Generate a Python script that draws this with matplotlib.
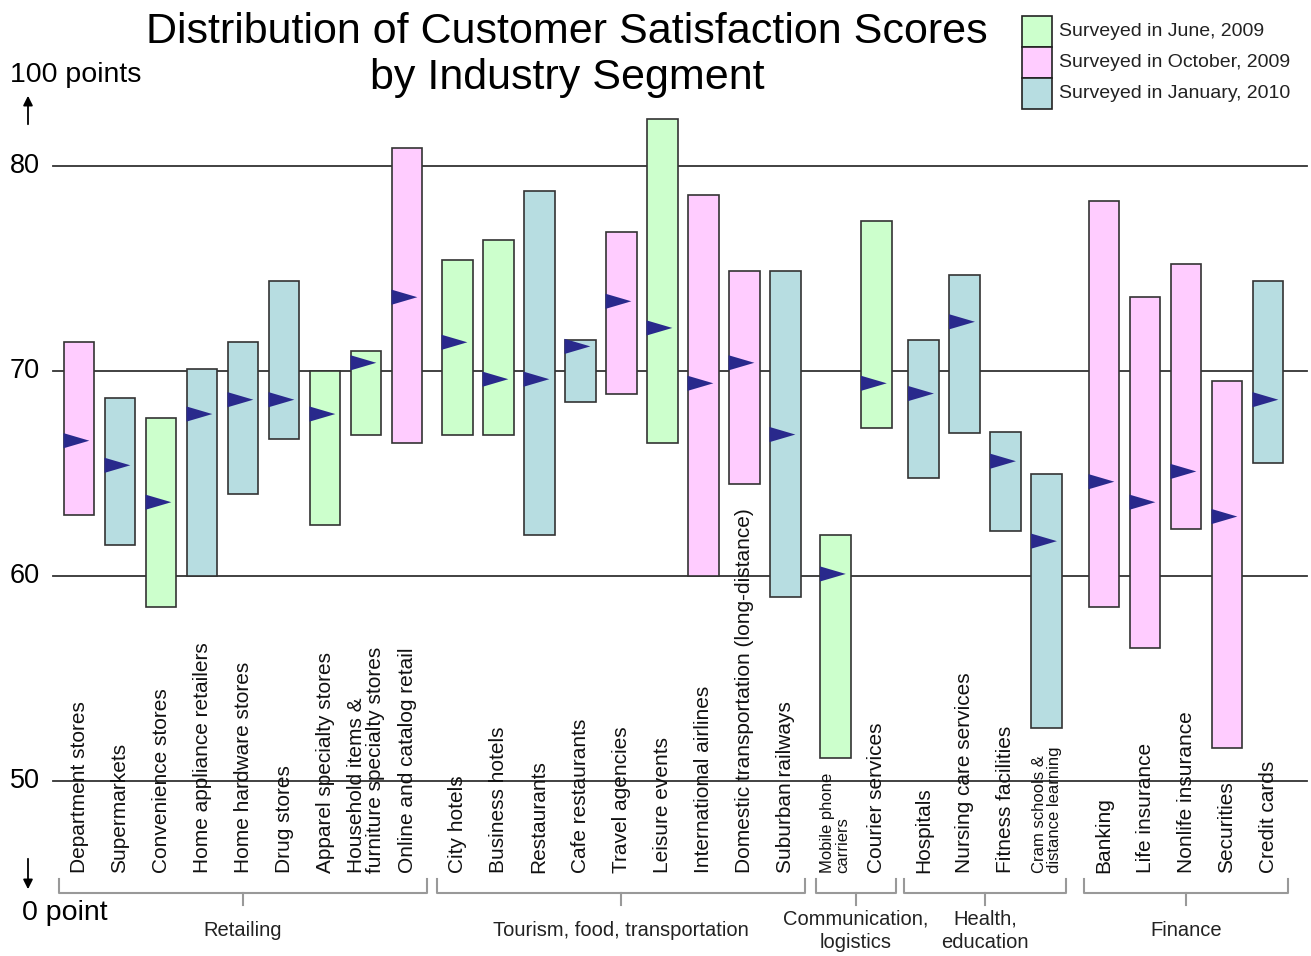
#!/usr/bin/env python3
# range bars of satisfaction scores with mean markers, grouped by segment
import matplotlib
matplotlib.use("Agg")
import matplotlib.pyplot as plt
from matplotlib.patches import Rectangle, Polygon

plt.rcParams['font.family'] = ['Liberation Sans', 'DejaVu Sans']

categories = ["Department stores", "Supermarkets", "Convenience stores",
              "Home appliance retailers", "Home hardware stores", "Drug stores",
              "Apparel specialty stores", "Household items &\nfurniture specialty stores",
              "Online and catalog retail",
              "City hotels", "Business hotels", "Restaurants", "Cafe restaurants",
              "Travel agencies", "Leisure events", "International airlines",
              "Domestic transportation (long-distance)", "Suburban railways",
              "Mobile phone\ncarriers", "Courier services",
              "Hospitals", "Nursing care services", "Fitness facilities",
              "Cram schools &\ndistance learning",
              "Banking", "Life insurance", "Nonlife insurance", "Securities", "Credit cards"]
groups = ["Retailing", "Tourism, food, transportation", "Communication,\nlogistics",
          "Health,\neducation", "Finance"]
group_of = [0]*9 + [1]*9 + [2]*2 + [3]*4 + [4]*5
# survey: 0 = June 2009, 1 = October 2009, 2 = January 2010
survey = [1, 2, 0, 2, 2, 2, 0, 0, 1,
          0, 0, 2, 2, 1, 0, 1, 1, 2,
          0, 0,
          2, 2, 2, 2,
          1, 1, 1, 1, 2]
low = [63.0, 61.5, 58.5, 60.0, 64.0, 66.7, 62.5, 66.9, 66.5,
       66.9, 66.9, 62.0, 68.5, 68.9, 66.5, 60.0, 64.5, 59.0,
       51.1, 67.2,
       64.8, 67.0, 62.2, 52.6,
       58.5, 56.5, 62.3, 51.6, 65.5]
high = [71.4, 68.7, 67.7, 70.1, 71.4, 74.4, 70.0, 71.0, 80.9,
        75.4, 76.4, 78.8, 71.5, 76.8, 82.3, 78.6, 74.9, 74.9,
        62.0, 77.3,
        71.5, 74.7, 67.0, 65.0,
        78.3, 73.6, 75.2, 69.5, 74.4]
mean = [66.6, 65.4, 63.6, 67.9, 68.6, 68.6, 67.9, 70.4, 73.6,
        71.4, 69.6, 69.6, 71.2, 73.4, 72.1, 69.4, 70.4, 66.9,
        60.1, 69.4,
        68.9, 72.4, 65.6, 61.7,
        64.6, 63.6, 65.1, 62.9, 68.6]
survey_labels = ["Surveyed in June, 2009", "Surveyed in October, 2009",
                 "Surveyed in January, 2010"]
survey_colors = ["#ccffcc", "#ffccff", "#b7dde1"]
gridvals = [80, 70, 60, 50]

W, H = 1311, 956
fig = plt.figure(figsize=(W/100, H/100), dpi=100)
ax = fig.add_axes([0, 0, 1, 1])
ax.set_xlim(-79/41, (W-79)/41)
ax.set_ylim(80 - (H-166)/20.5, 80 + 166/20.5)
ax.axis('off')

def fx(px):
    return px / W

def fy(py):
    return 1 - py / H

group_shift = [0, 0.22, 0.45, 0.6, 1.0]  # extra space before each segment
xs = [i + group_shift[g] for i, g in enumerate(group_of)]
bw = 0.756

for v in gridvals:
    ax.axhline(v, xmin=fx(53), xmax=fx(1307), color='#333333', lw=1.3, zorder=1)
    ax.text(fx(10), v, str(v), transform=ax.get_yaxis_transform(), ha='left',
            va='center', fontsize=19.5)

for x, lo, hi, m, s in zip(xs, low, high, mean, survey):
    ax.add_patch(Rectangle((x - bw/2, lo), bw, hi - lo, facecolor=survey_colors[s],
                           edgecolor='#333333', lw=1.2, zorder=2))
    left = x - bw/2
    ax.add_patch(Polygon([(left, m + 0.37), (left, m - 0.37), (left + 0.63, m)],
                         closed=True, facecolor='#29298c', edgecolor='none', zorder=3))

for x, name in zip(xs, categories):
    small = name.startswith("Mobile") or name.startswith("Cram")
    ax.text(x, 45.5, name, rotation=90, ha='center', va='bottom',
            multialignment='left', fontsize=12 if small else 15,
            color='#111111', linespacing=1.0)

# group braces
for g, gname in enumerate(groups):
    idx = [i for i, gg in enumerate(group_of) if gg == g]
    x0, x1 = xs[idx[0]] - 0.48, xs[idx[-1]] + 0.48
    xc = (x0 + x1) / 2
    ax.plot([x0, x0, x1, x1], [45.2, 44.55, 44.55, 45.2], color='#999999', lw=1.5)
    ax.plot([xc, xc], [44.55, 43.95], color='#999999', lw=1.5)
    ax.text(xc, 42.7, gname, ha='center', va='center', fontsize=14.5,
            color='#222222', linespacing=1.25)

# axis end labels and arrows
fig.text(fx(10), fy(75), "100 points", ha='left', va='center', fontsize=20.5)
fig.text(fx(22), fy(913), "0 point", ha='left', va='center', fontsize=20.5)
ax.annotate("", xy=(fx(28), fy(93)), xytext=(fx(28), fy(127)),
            xycoords='figure fraction', textcoords='figure fraction',
            arrowprops=dict(arrowstyle='-|>', color='black', lw=1.3, mutation_scale=14))
ax.annotate("", xy=(fx(28), fy(892)), xytext=(fx(28), fy(856)),
            xycoords='figure fraction', textcoords='figure fraction',
            arrowprops=dict(arrowstyle='-|>', color='black', lw=1.3, mutation_scale=14))

fig.text(fx(567), fy(55), "Distribution of Customer Satisfaction Scores\nby Industry Segment",
         ha='center', va='center', fontsize=31, linespacing=1.2)

# legend
for k, (lab, col) in enumerate(zip(survey_labels, survey_colors)):
    top = 16 + 31*k
    fig.patches.append(Rectangle((fx(1022), fy(top + 31)), fx(30), 31/H,
                                 transform=fig.transFigure, facecolor=col,
                                 edgecolor='#222222', lw=1.2))
    fig.text(fx(1059), fy(top + 15.5), lab, ha='left', va='center', fontsize=14,
             color='#222222')

fig.savefig("out.png", dpi=100)
